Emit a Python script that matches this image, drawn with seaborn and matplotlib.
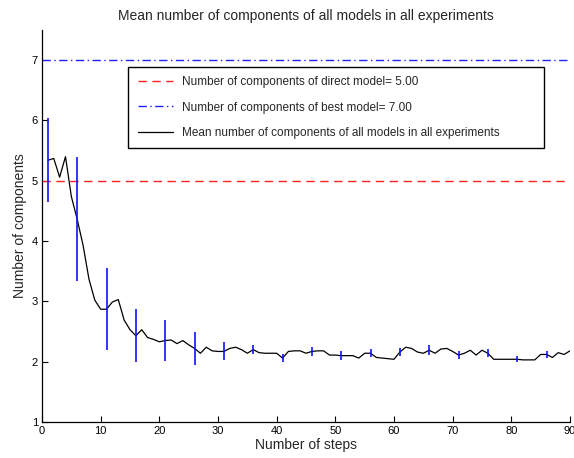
import numpy as np
import pandas as pd
import matplotlib
matplotlib.use("Agg")
import matplotlib.pyplot as plt
import seaborn as sns

# ---- data ----
steps = list(range(1, 91))
mean_components = [
    5.34, 5.37, 5.06, 5.40, 4.74, 4.36, 3.93, 3.37, 3.02, 2.87,
    2.87, 2.99, 3.03, 2.69, 2.53, 2.43, 2.53, 2.40, 2.37, 2.33,
    2.35, 2.36, 2.30, 2.35, 2.28, 2.22, 2.14, 2.24, 2.18, 2.17,
    2.17, 2.22, 2.24, 2.20, 2.14, 2.20, 2.15, 2.14, 2.14, 2.14,
    2.06, 2.17, 2.18, 2.18, 2.14, 2.17, 2.18, 2.18, 2.11, 2.11,
    2.10, 2.10, 2.10, 2.06, 2.14, 2.14, 2.07, 2.06, 2.05, 2.04,
    2.16, 2.24, 2.22, 2.16, 2.14, 2.19, 2.14, 2.21, 2.22, 2.17,
    2.11, 2.14, 2.19, 2.11, 2.19, 2.14, 2.04, 2.04, 2.04, 2.04,
    2.04, 2.03, 2.03, 2.03, 2.12, 2.12, 2.07, 2.15, 2.12, 2.18,
]
err_steps = [1, 6, 11, 16, 21, 26, 31, 36, 41, 46, 51, 56, 61, 66, 71, 76, 81, 86]
err_half = [0.70, 1.03, 0.68, 0.44, 0.34, 0.27, 0.15, 0.07, 0.07, 0.08,
            0.07, 0.07, 0.07, 0.08, 0.07, 0.07, 0.05, 0.06]
direct_model = 5.00
best_model = 7.00

title = "Mean number of components of all models in all experiments"
xlabel = "Number of steps"
ylabel = "Number of components"
xticks = [0, 10, 20, 30, 40, 50, 60, 70, 80, 90]
yticks = [1, 2, 3, 4, 5, 6, 7]

df = pd.DataFrame({"step": steps, "mean": mean_components})
err_centers = [mean_components[steps.index(s)] for s in err_steps]

# ---- style ----
sns.set_style("ticks")
plt.rcParams["font.family"] = ["Liberation Sans", "DejaVu Sans"]
plt.rcParams["xtick.direction"] = "in"
plt.rcParams["ytick.direction"] = "in"

fig = plt.figure(figsize=(5.74, 4.58), dpi=100)
ax = fig.add_axes([0.0732, 0.0786, 0.9198, 0.8559])

ax.axhline(direct_model, color="#ff2020", lw=1.0, dashes=(6, 4),
           label=f"Number of components of direct model= {direct_model:.2f}")
ax.axhline(best_model, color="#2020ff", lw=1.0, dashes=(6, 2.5, 1, 2.5),
           label=f"Number of components of best model= {best_model:.2f}")
sns.lineplot(data=df, x="step", y="mean", ax=ax, color="black", lw=0.9,
             label="Mean number of components of all models in all experiments")
ax.errorbar(err_steps, err_centers, yerr=err_half, fmt="none",
            ecolor="#1010ff", elinewidth=1.2, capsize=0)

ax.set_xlim(0, 90)
ax.set_ylim(1, 7.5)
ax.set_xticks(xticks)
ax.set_yticks(yticks)
ax.tick_params(labelsize=8, length=4, width=0.8, colors="black", pad=3)
for s in ["top", "right"]:
    ax.spines[s].set_visible(False)
for s in ["left", "bottom"]:
    ax.spines[s].set_linewidth(0.9)
    ax.spines[s].set_color("black")

ax.set_title(title, fontsize=10, pad=7)
ax.set_xlabel(xlabel, fontsize=10, labelpad=1)
ax.set_ylabel(ylabel, fontsize=10, labelpad=3)

leg = ax.legend(loc="upper left", bbox_to_anchor=(0.163, 0.706, 0.7879, 0.2),
                mode="expand", borderaxespad=0, fontsize=8.5, frameon=True,
                fancybox=False, edgecolor="black", framealpha=1,
                handlelength=3.0, handletextpad=0.75, labelspacing=1.12,
                borderpad=0.8)
leg.get_frame().set_linewidth(1.0)

fig.savefig("out.png", dpi=100)
